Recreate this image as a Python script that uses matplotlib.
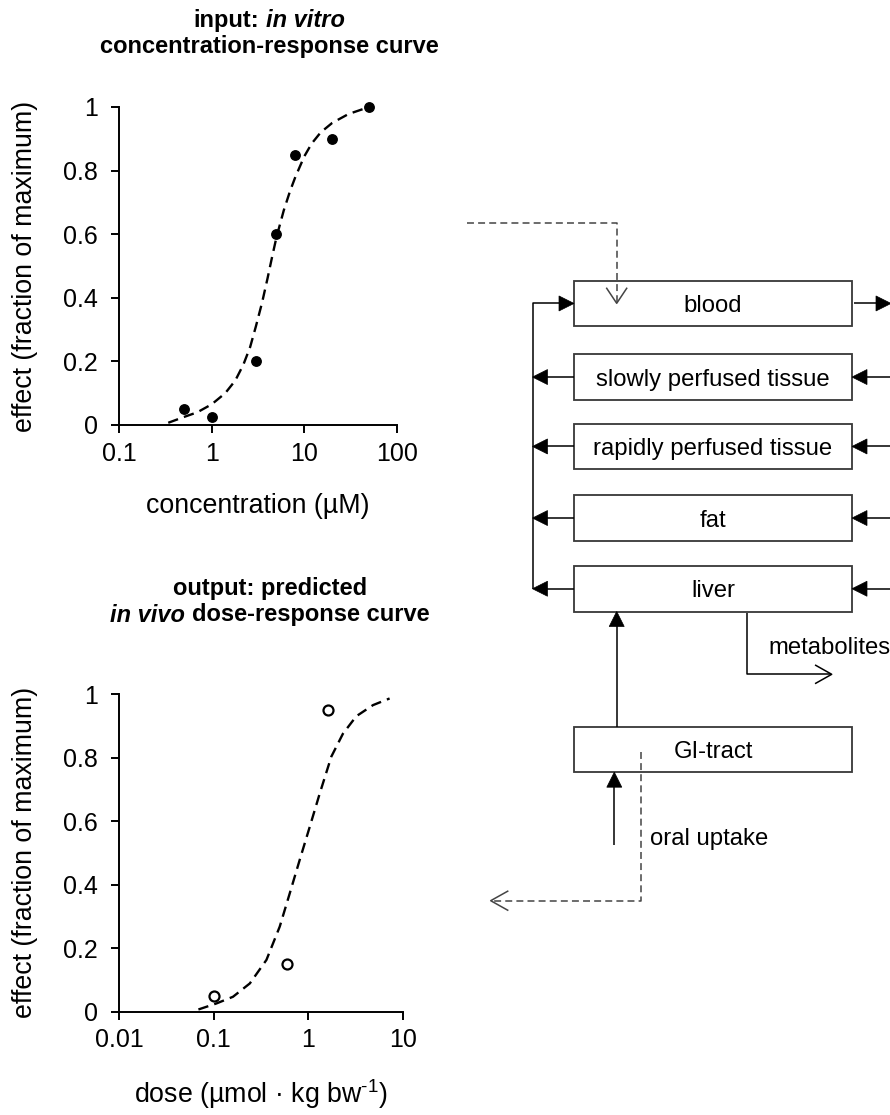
import matplotlib
matplotlib.use("Agg")
import matplotlib.pyplot as plt
from matplotlib.patches import Rectangle, Polygon
from matplotlib.transforms import IdentityTransform

plt.rcParams['font.family'] = ['Liberation Sans', 'DejaVu Sans']
plt.rcParams['mathtext.fontset'] = 'custom'
plt.rcParams['mathtext.rm'] = 'Liberation Sans'
plt.rcParams['mathtext.it'] = 'Liberation Sans:italic'
plt.rcParams['mathtext.bf'] = 'Liberation Sans:bold'
plt.rcParams['lines.scale_dashes'] = False

# ---------------- data ----------------
invitro_conc = [0.5, 1, 3, 5, 8, 20, 50]
invitro_effect = [0.05, 0.025, 0.2, 0.6, 0.85, 0.9, 1.0]
invitro_fit_conc = [0.34, 0.5, 0.7, 1.0, 1.4, 1.8, 2.2, 2.6, 3.0, 3.5, 4.0, 4.5, 5.0, 6.0, 7.0, 8.0, 10, 12, 15, 20, 30, 50]
invitro_fit_effect = [0.007, 0.025, 0.04, 0.065, 0.1, 0.14, 0.19, 0.245, 0.31, 0.385, 0.46, 0.53, 0.59, 0.675, 0.735, 0.78, 0.845, 0.885, 0.92, 0.95, 0.978, 1.0]

invivo_dose = [0.1, 0.6, 1.6]
invivo_effect = [0.05, 0.15, 0.95]
invivo_fit_dose = [0.069, 0.107, 0.16, 0.241, 0.361, 0.499, 0.637, 0.811, 1.035, 1.32, 1.75, 2.32, 3.21, 4.82, 7.22]
invivo_fit_effect = [0.007, 0.026, 0.047, 0.089, 0.163, 0.268, 0.373, 0.478, 0.582, 0.687, 0.803, 0.875, 0.93, 0.965, 0.986]

y_ticks = [0, 0.2, 0.4, 0.6, 0.8, 1]
y_ticklabels = ['0', '0.2', '0.4', '0.6', '0.8', '1']
top_xticks = [0.1, 1, 10, 100]
top_xticklabels = ['0.1', '1', '10', '100']
bot_xticks = [0.01, 0.1, 1, 10]
bot_xticklabels = ['0.01', '0.1', '1', '10']

compartments = ['blood', 'slowly perfused tissue', 'rapidly perfused tissue', 'fat', 'liver', 'GI-tract']

# ---------------- figure ----------------
W, H = 890, 1115
fig = plt.figure(figsize=(W / 100, H / 100), dpi=100)


def ax_rect(x0, y0, x1, y1):
    return [x0 / W, 1 - y1 / H, (x1 - x0) / W, (y1 - y0) / H]


TICK_FS = 18
LABEL_FS = 19.3


def style_axes(ax):
    for s in ['top', 'right']:
        ax.spines[s].set_visible(False)
    for s in ['left', 'bottom']:
        ax.spines[s].set_linewidth(1.4)
    ax.tick_params(axis='both', direction='out', length=6, width=1.4, labelsize=TICK_FS)
    ax.tick_params(axis='y', pad=9)
    ax.tick_params(axis='x', pad=6)
    ax.minorticks_off()
    ax.set_ylim(0, 1)
    ax.set_yticks(y_ticks)
    ax.set_yticklabels(y_ticklabels)


# top plot
ax1 = fig.add_axes(ax_rect(119, 107, 397, 425))
ax1.set_xscale('log')
ax1.set_xlim(0.1, 100)
style_axes(ax1)
ax1.set_xticks(top_xticks)
ax1.set_xticklabels(top_xticklabels)
ax1.minorticks_off()
ax1.plot(invitro_fit_conc, invitro_fit_effect, color='black', lw=1.7,
         linestyle=(0, (7.5, 4.5)), clip_on=False)
ax1.plot(invitro_conc, invitro_effect, 'o', color='black', ms=6.8, clip_on=False)
ax1.set_ylabel('effect (fraction of maximum)', fontsize=LABEL_FS, va='center')
ax1.yaxis.set_label_coords(-(119 - 25) / 278, 0.5)
ax1.set_xlabel('concentration (µM)', fontsize=LABEL_FS, va='center')
ax1.xaxis.set_label_coords(0.5, -(506 - 425) / 318)

# bottom plot
ax2 = fig.add_axes(ax_rect(119, 694, 403, 1011.7))
ax2.set_xscale('log')
ax2.set_xlim(0.01, 10)
style_axes(ax2)
ax2.set_xticks(bot_xticks)
ax2.set_xticklabels(bot_xticklabels)
ax2.minorticks_off()
ax2.plot(invivo_fit_dose, invivo_fit_effect, color='black', lw=1.7,
         linestyle=(0, (7.5, 4.5)), clip_on=False)
ax2.plot(invivo_dose, invivo_effect, 'o', mfc='white', mec='black', mew=1.6, ms=7.2, clip_on=False)
ax2.set_ylabel('effect (fraction of maximum)', fontsize=LABEL_FS, va='center')
ax2.yaxis.set_label_coords(-(119 - 25) / 284, 0.5)
ax2.set_xlabel('dose (µmol · kg bw$^{\\mathregular{\u2010}1}$)', fontsize=LABEL_FS, va='center')
ax2.xaxis.set_label_coords(0.5, -(1094 - 1011.7) / 317.7)

# ---------------- titles (mixed bold / bold italic) ----------------
TITLE_FS = 17
renderer = fig.canvas.get_renderer()


def text_width(s, style):
    t = fig.text(0, 0, s, fontsize=TITLE_FS, fontweight='bold', fontstyle=style)
    w = t.get_window_extent(renderer).width
    t.remove()
    return w


space_w = text_width('a a', 'normal') - text_width('aa', 'normal')


def title_line(pieces, cx, y_base):
    widths = [text_width(s, st) for s, st in pieces]
    total = sum(widths) + space_w * (len(pieces) - 1)
    x = cx - total / 2
    for (s, st), w in zip(pieces, widths):
        fig.text(x, H - y_base, s, fontsize=TITLE_FS, fontweight='bold', fontstyle=st,
                 ha='left', va='baseline', transform=IdentityTransform())
        x += w + space_w


title_line([('input:', 'normal'), ('in vitro', 'italic')], 269, 27)
title_line([('concentration-response curve', 'normal')], 269, 53.5)
title_line([('output: predicted', 'normal')], 270, 594.5)
title_line([('in vivo', 'italic'), ('dose-response curve', 'normal')], 270, 621.5)

# ---------------- PBK diagram ----------------
axd = fig.add_axes([0, 0, 1, 1], zorder=-1)
axd.set_xlim(0, W)
axd.set_ylim(H, 0)
axd.axis('off')
axd.patch.set_alpha(0)

BOX_L, BOX_R, BOX_H = 574, 852, 45.5
box_tops = [280.7, 354.3, 423.7, 495.3, 566, 726.7]
DIAG_FS = 17.2
EDGE = '#3a3a3a'
DASH_C = '#444444'
LW = 1.1

centers = {}
for name, top in zip(compartments, box_tops):
    axd.add_patch(Rectangle((BOX_L, top), BOX_R - BOX_L, BOX_H, fill=False,
                            ec=EDGE, lw=LW * 1.2))
    cy = top + BOX_H / 2
    centers[name] = cy
    axd.text((BOX_L + BOX_R) / 2, cy, name, fontsize=DIAG_FS, ha='center', va='center_baseline')


def line(pts, dashed=False, color='black'):
    xs = [p[0] for p in pts]
    ys = [p[1] for p in pts]
    if dashed:
        axd.plot(xs, ys, color=DASH_C, lw=LW, linestyle=(0, (5, 3)), solid_capstyle='butt',
                 clip_on=False)
    else:
        axd.plot(xs, ys, color=color, lw=LW, solid_capstyle='butt', clip_on=False)


def filled_head(tip, direction, length=15, half=7.5):
    x, y = tip
    dx, dy = direction
    bx, by = x - dx * length, y - dy * length
    px, py = -dy, dx
    axd.add_patch(Polygon([(x, y), (bx + px * half, by + py * half), (bx - px * half, by - py * half)],
                          closed=True, fc='black', ec='black', lw=0.5, clip_on=False))


def open_head(tip, direction, color, length=15, half=9.5):
    x, y = tip
    dx, dy = direction
    bx, by = x - dx * length, y - dy * length
    px, py = -dy, dx
    axd.plot([bx + px * half, x, bx - px * half], [by + py * half, y, by - py * half],
             color=color, lw=LW, clip_on=False)


LEFT_X = 532.5
RIGHT_X = 892
blood_y = centers['blood']
liver_y = centers['liver']

# left collector line
line([(LEFT_X, liver_y), (LEFT_X, blood_y), (BOX_L - 14, blood_y)])
filled_head((BOX_L, blood_y), (1, 0))
for name in compartments[1:5]:
    cy = centers[name]
    line([(BOX_L, cy), (LEFT_X + 14, cy)])
    filled_head((LEFT_X, cy), (-1, 0))
    line([(RIGHT_X, cy), (BOX_R + 14, cy)])
    filled_head((BOX_R, cy), (-1, 0))
# blood out to right
line([(BOX_R + 2, blood_y), (RIGHT_X - 14, blood_y)])
filled_head((RIGHT_X - 1, blood_y), (1, 0))

# GI-tract -> liver
GI_top = box_tops[5]
liver_bottom = box_tops[4] + BOX_H
line([(616.7, GI_top), (616.7, liver_bottom + 14)])
filled_head((616.7, liver_bottom), (0, -1))

# metabolites
line([(747.3, liver_bottom + 1), (747.3, 674.3), (830, 674.3)])
open_head((831.7, 674.3), (1, 0), 'black', length=16, half=9)
axd.text(768, 646, 'metabolites', fontsize=DIAG_FS, ha='left', va='center_baseline')

# oral uptake
GI_bottom = GI_top + BOX_H
line([(614.3, 845), (614.3, GI_bottom + 14)])
filled_head((614.3, GI_bottom), (0, -1))
axd.text(650, 837, 'oral uptake', fontsize=DIAG_FS, ha='left', va='center_baseline')

# dashed link: in vitro input -> blood
line([(466.7, 222.7), (616.7, 222.7), (616.7, 303)], dashed=True)
open_head((616.7, 303.3), (0, 1), DASH_C, length=15, half=10)

# dashed link: GI-tract -> in vivo output
line([(640.7, 751.7), (640.7, 900.7), (492, 900.7)], dashed=True)
open_head((490.7, 900.7), (-1, 0), DASH_C, length=17, half=9.5)

fig.savefig('out.png', dpi=100)
